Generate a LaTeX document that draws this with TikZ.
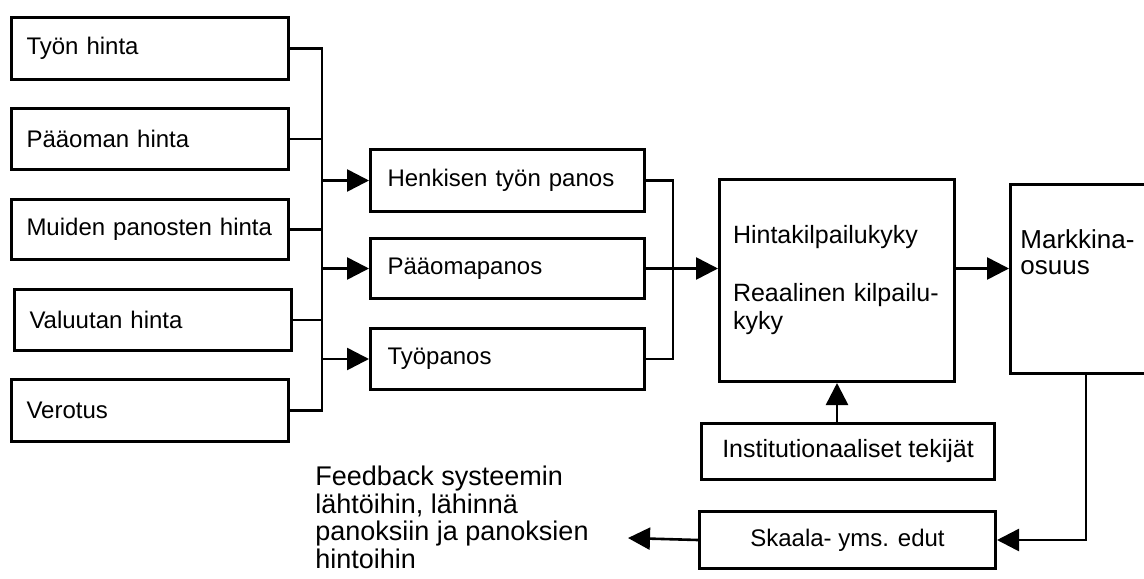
\documentclass[tikz,border=0pt]{standalone}
\usepackage{fontspec}
\setmainfont{Liberation Sans}
\usetikzlibrary{arrows.meta}
\tikzset{>={Triangle[length=11pt,width=11pt]},every node/.style={font=\fontsize{12}{14}\selectfont},box/.style={draw,line width=1.5pt,anchor=north west,align=left,inner xsep=7.5pt,inner ysep=0pt},edge/.style={line width=1.3pt},flow/.style={edge,->},big/.style={font=\fontsize{12.5}{14}\selectfont}}

\begin{document}
\begin{tikzpicture}[x=.5pt,y=-.5pt]
\useasboundingbox (0,0) rectangle (1144,578);
% hinnat
\node[box,text width=123.5pt,minimum height=31pt] (tyo) at (10,16){Työn hinta};
\node[box,text width=123.5pt,minimum height=30.5pt] (paaoma) at (10,107){Pääoman hinta};
\node[box,text width=123.5pt,minimum height=30pt] (muut) at (10,198){Muiden panosten hinta};
\node[box,text width=123.5pt,minimum height=30.5pt] (valuutta) at (13,288){Valuutan hinta};
\node[box,text width=123.5pt,minimum height=31pt] (verotus) at (10,378){Verotus};
\coordinate (lbus) at (322,0);\coordinate (rbus) at (673,0);
\draw[edge] (tyo.east)--(tyo.east-|lbus)--(verotus.east-|lbus)--(verotus.east);
\foreach \n in {paaoma,muut,valuutta}\draw[edge] (\n.east)--(\n.east-|lbus);
% panokset
\node[box,inner xsep=8.5pt,text width=120pt,minimum height=31pt] (henkinen) at (369,148){Henkisen työn panos};
\node[box,inner xsep=8.5pt,text width=120pt,minimum height=30pt] (paaomapanos) at (369,237){Pääomapanos};
\node[box,inner xsep=8.5pt,text width=120pt,minimum height=30.5pt] (tyopanos) at (369,327){Työpanos};
\foreach \n in {henkinen,paaomapanos,tyopanos}\draw[flow] (\n.west-|lbus)--(\n.west);
\draw[edge] (henkinen.east)--(henkinen.east-|rbus)--(tyopanos.east-|rbus)--(tyopanos.east);
% kilpailukyky ja markkinaosuus
\node[box,big,inner xsep=6.75pt,text width=104pt,minimum height=101pt] (kilpailu) at (718,178){Hintakilpailukyky\\[15pt]Reaalinen kilpailu-\\kyky\\[-2pt]};
\node[box,minimum width=75.5pt,minimum height=94.5pt,label={[anchor=north west,align=left,font=\fontsize{13}{13}\selectfont,inner sep=0pt,xshift=5.5pt,yshift=-23pt]north west:{Markkina-\\osuus}}] (markt) at (1009,183){};
\draw[flow] (paaomapanos.east)--(paaomapanos.east-|kilpailu.west);
\draw[flow] (kilpailu.east|-paaomapanos.east)--(markt.west|-paaomapanos.east);
\node[box,big,align=center,minimum width=146.5pt,minimum height=28pt] (inst) at (700,422){Institutionaaliset tekijät};
\draw[flow] (inst.north-|kilpailu.south)--(kilpailu.south);
% palaute
\node[box,align=center,minimum width=148pt,minimum height=28.5pt] (skaala) at (698,510){Skaala- yms. edut};
\draw[flow] (markt.south)|-(skaala.east);
\node[anchor=north west,align=left,inner sep=0pt,font=\fontsize{13.5}{13.75}\selectfont] (fb) at (315,466){Feedback systeemin\\lähtöihin, lähinnä\\panoksiin ja panoksien\\hintoihin};
\coordinate (fbin) at (628,538);
\draw[flow] (skaala.west)--(fbin);
\end{tikzpicture}
\end{document}
